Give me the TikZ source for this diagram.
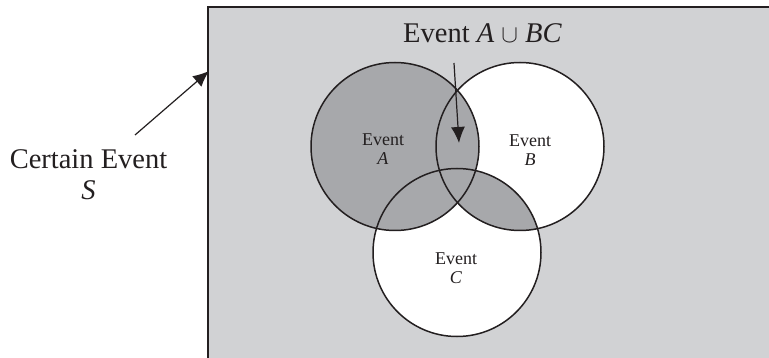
\documentclass[tikz,border=0pt]{standalone}
\usepackage{fontspec}
\setmainfont{Liberation Serif}
\usetikzlibrary{arrows.meta}
\definecolor{bggray}{RGB}{209,210,212}
\definecolor{regionshade}{RGB}{167,168,171}
\definecolor{ink}{RGB}{35,31,32}
\begin{document}
\begin{tikzpicture}[x=1pt,y=-1pt,
  eventset/.style={draw=ink, line width=1.5pt},
  setlabel/.style={align=center, inner sep=0pt, anchor=base,
    font=\fontsize{18}{19.5}\selectfont, text=ink},
  biglabel/.style={inner sep=0pt, anchor=base,
    font=\fontsize{28.5}{31}\selectfont, text=ink},
  pointer/.style={draw=ink, line width=1.2pt, -{Latex[length=16pt,width=14pt]}}]
  % page frame
  \clip (0,0) rectangle (769,358);
  \fill[white] (0,0) rectangle (769,358);
  % sample space
  \filldraw[fill=bggray, draw=ink, line width=2pt] (208,7) rectangle (800,390);
  % circle centres
  \coordinate (cA) at (395,146.5);
  \coordinate (cB) at (520,146.5);
  \coordinate (cC) at (457,252.5);
  % fills: B and C white, A and BC shaded
  \fill[white] (cB) circle[radius=84pt];
  \fill[white] (cC) circle[radius=84pt];
  \fill[regionshade] (cA) circle[radius=84pt];
  \begin{scope}
    \clip (cB) circle[radius=84pt];
    \fill[regionshade] (cC) circle[radius=84pt];
  \end{scope}
  % outlines
  \draw[eventset] (cA) circle[radius=84pt];
  \draw[eventset] (cB) circle[radius=84pt];
  \draw[eventset] (cC) circle[radius=84pt];
  % labels (base anchor sits on the last line)
  \node[setlabel] (labA) at (383,165) {Event\\\textit{A}};
  \node[setlabel] (labB) at (530,166) {Event\\\textit{B}};
  \node[setlabel] (labC) at (456,284) {Event\\\textit{C}};
  \node[biglabel] (title) at (482.5,43) {Event \textit{A} $\cup$ \textit{BC}};
  \node[biglabel, align=center] (certain) at (88.5,200) {Certain Event\\\textit{S}};
  % pointers
  \coordinate (titleTail) at (454,63);
  \coordinate (titleTip) at (459,143);
  \coordinate (certainTail) at (135,135);
  \coordinate (certainTip) at (209,71);
  \draw[pointer] (titleTail) -- (titleTip);
  \draw[pointer] (certainTail) -- (certainTip);
\end{tikzpicture}
\end{document}
